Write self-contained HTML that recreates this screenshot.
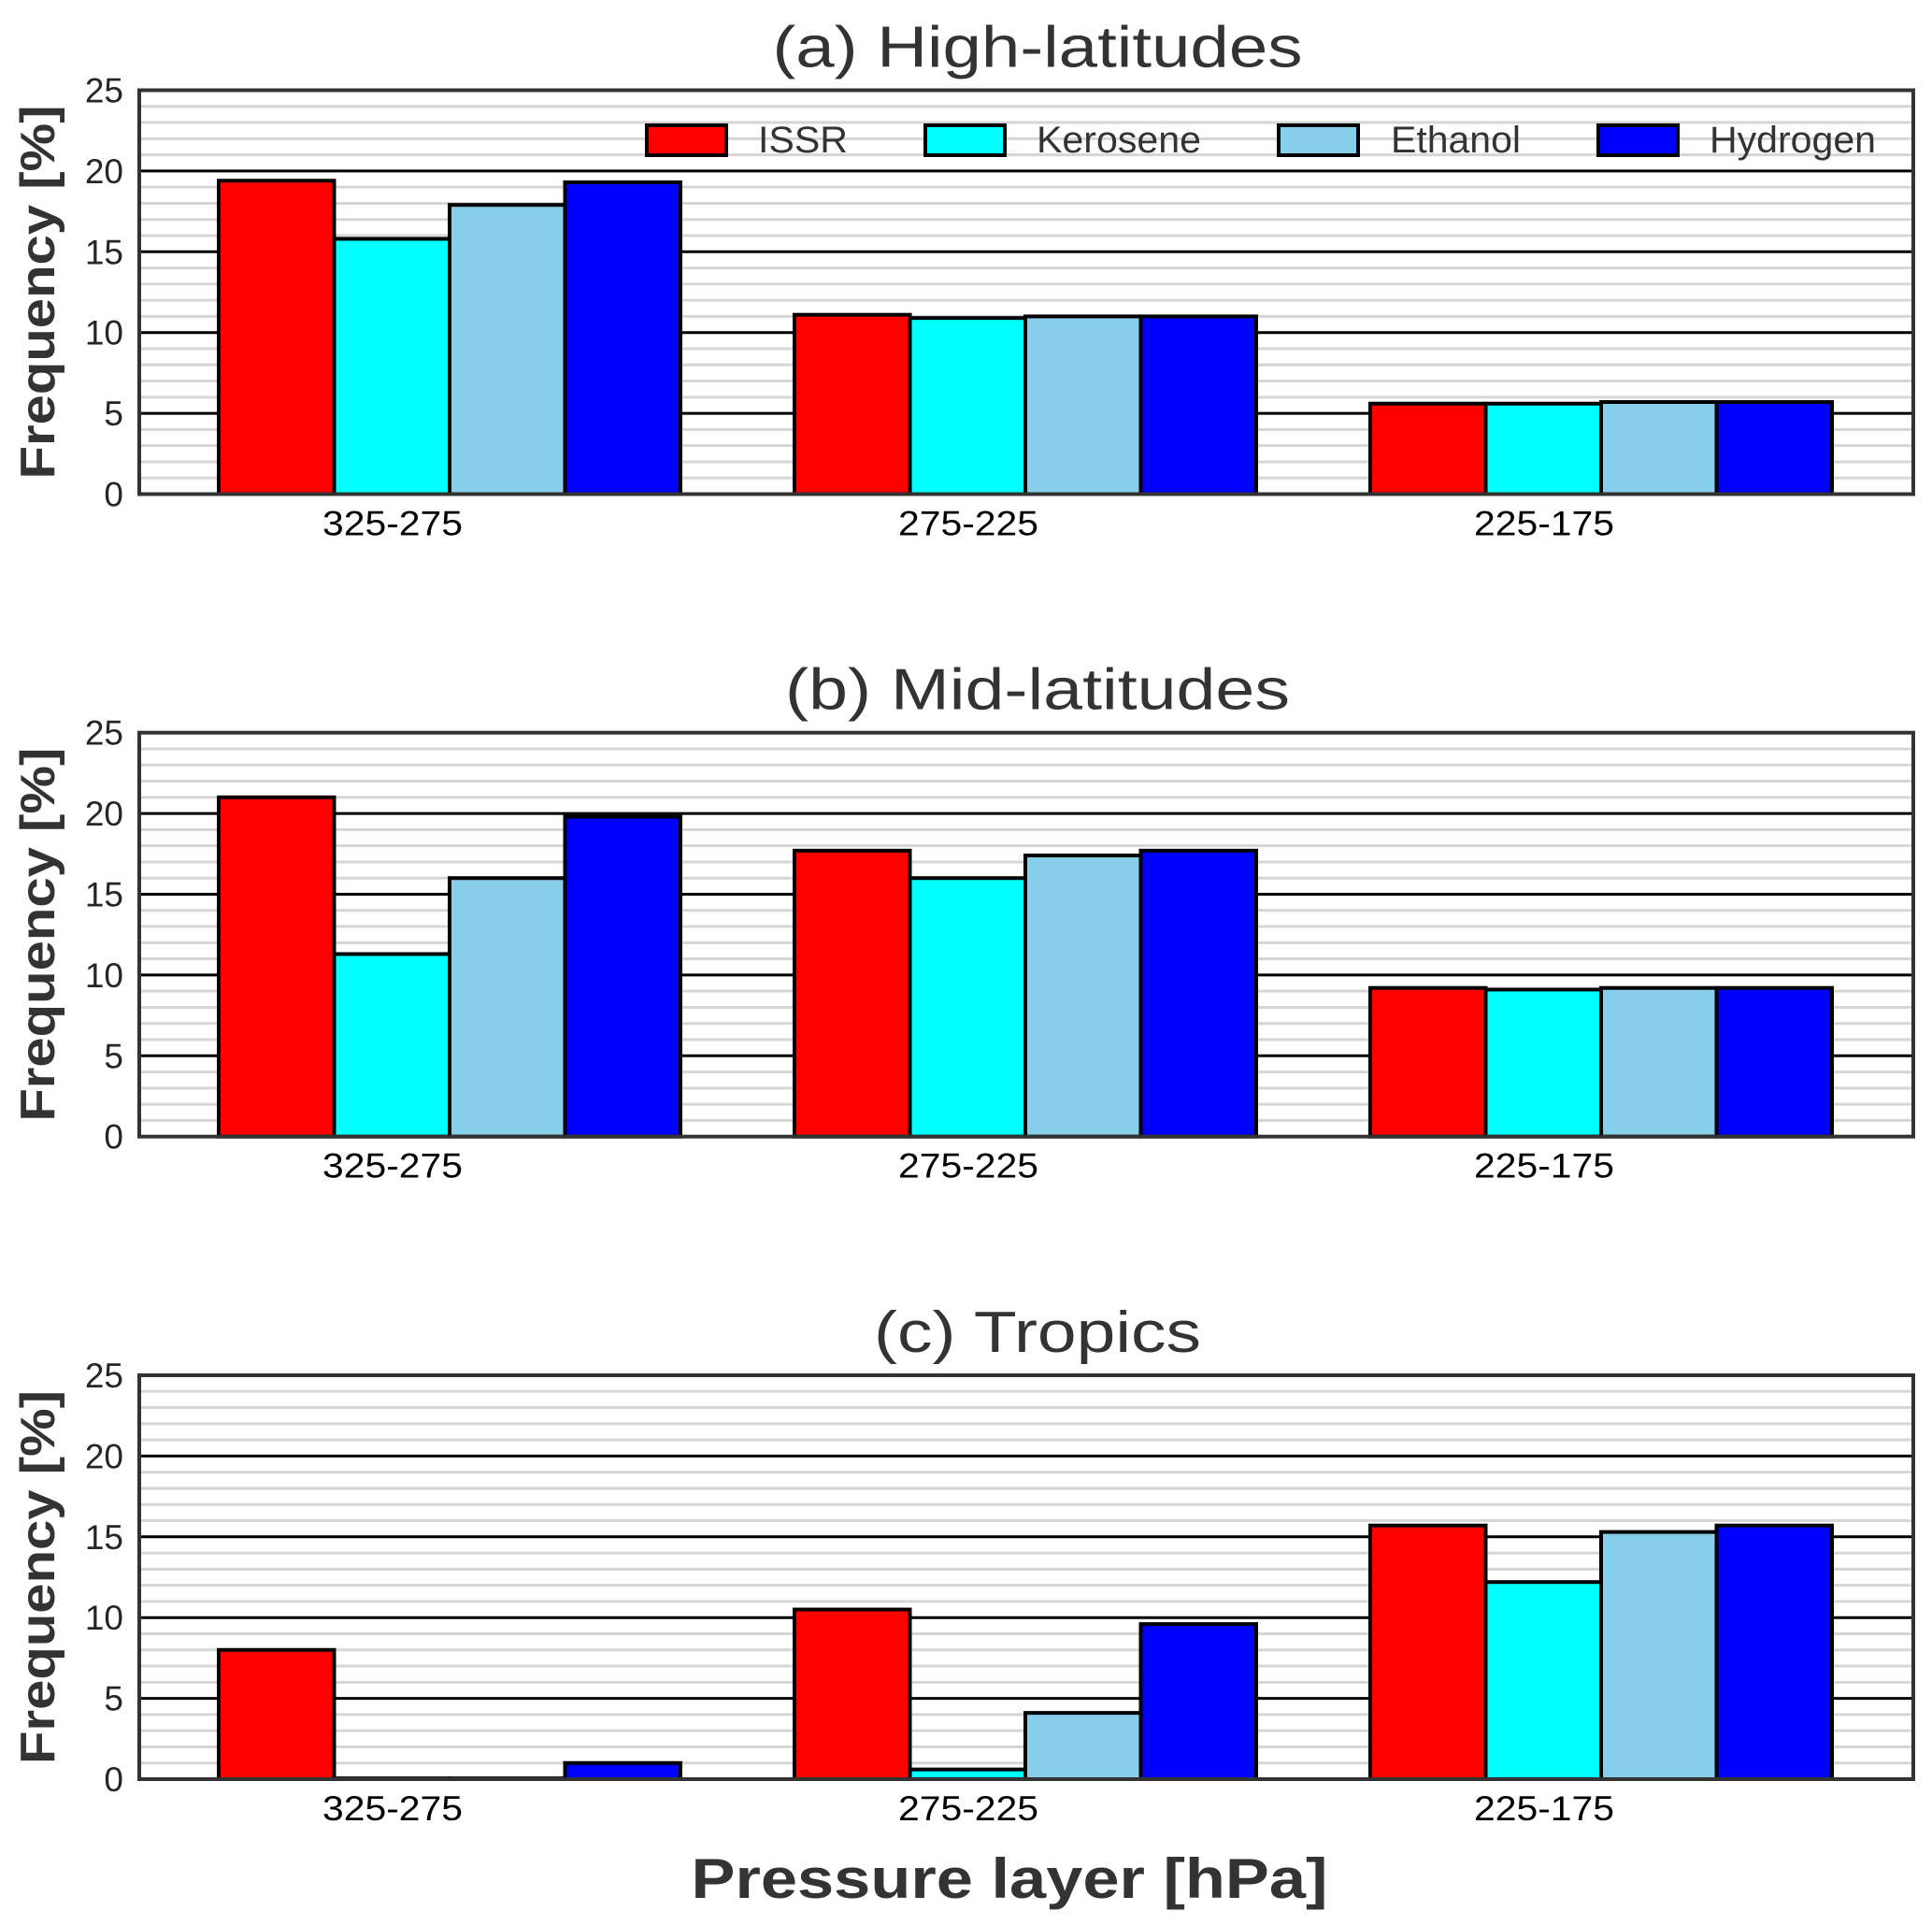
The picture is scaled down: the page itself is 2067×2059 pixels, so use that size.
<!DOCTYPE html>
<html><head><meta charset="utf-8"><style>
html,body{margin:0;padding:0;background:#fff}
svg text{font-family:"Liberation Sans",sans-serif}
</style></head><body>
<svg id="fig" width="2067" height="2054" viewBox="0 0 2067 2054" xmlns="http://www.w3.org/2000/svg">
<rect width="2067" height="2054" fill="#fff"/>
</svg>
<script>
const categories = ["325-275","275-225","225-175"];
const seriesNames = ["ISSR","Kerosene","Ethanol","Hydrogen"];
const seriesColors = ["#ff0000","#00ffff","#87ceeb","#0000ff"];
const panelTitles = ["(a) High-latitudes","(b) Mid-latitudes","(c) Tropics"];
const highLat = [[19.4,11.1,5.6],[15.8,10.9,5.6],[17.9,11.0,5.7],[19.3,11.0,5.7]];
const midLat  = [[21.0,17.7,9.2],[11.3,16.0,9.1],[16.0,17.4,9.2],[19.8,17.7,9.2]];
const tropics = [[8.0,10.5,15.7],[0.05,0.6,12.2],[0.05,4.1,15.3],[1.0,9.6,15.7]];
const yTicks = [0,5,10,15,20,25];
const panels = [highLat, midLat, tropics];

const NS = "http://www.w3.org/2000/svg";
const svg = document.getElementById('fig');
function mk(tag, attrs, parent){const e=document.createElementNS(NS,tag);for(const k in attrs)e.setAttribute(k,attrs[k]);(parent||svg).appendChild(e);return e;}

const L=149, R=2047, H=432, yMax=25;
const tops=[96.5,783.7,1471];
const catX0=481, catStep=616, barW=123.5;
const xCat = i => catX0 + catStep*i;

panels.forEach((data,p)=>{
  const top=tops[p], bot=top+H;
  const y = v => bot - v/yMax*H;
  const g = mk('g',{});
  
  
  for(let v=1; v<yMax; v++){
    if(v%5===0) continue;
    const ln=mk('line',{x1:L,x2:R,y1:y(v),y2:y(v),stroke:'#d6d6d6','stroke-width':3},g);
    
    
  }
  yTicks.forEach(v=>{
    if(v>0 && v<yMax){
      const ln=mk('line',{x1:L,x2:R,y1:y(v),y2:y(v),stroke:'#000','stroke-width':3},g);
      
      
    }
    const t=mk('text',{x:132,y:y(v)+13,'text-anchor':'end','font-size':37,fill:'#262626'},g);
    t.textContent=v;
    
    
  });
  data.forEach((vals,s)=>{
    vals.forEach((v,c)=>{
      const x = xCat(c) - 2*barW + s*barW;
      const r=mk('rect',{x:x,y:y(v),width:barW,height:bot-y(v),fill:seriesColors[s],stroke:'#000','stroke-width':4},g);
      
      
    });
  });
  const fr=mk('rect',{x:L,y:top,width:R-L,height:H,fill:'none',stroke:'#333','stroke-width':4},g);
  
  
  categories.forEach((c,i)=>{
    const t=mk('text',{x:xCat(i)-61,y:bot+44,'text-anchor':'middle','font-size':37,fill:'#000',textLength:150,lengthAdjust:'spacingAndGlyphs'},g);
    t.textContent=c;
    
    
  });
  const tt=mk('text',{x:1110,y:top-25,'text-anchor':'middle','font-size':62,fill:'#333',textLength:[567,540,350][p],lengthAdjust:'spacingAndGlyphs'},g);
  tt.textContent=panelTitles[p];
  
  
  const yl=mk('text',{x:0,y:0,'text-anchor':'middle','font-size':52,'font-weight':'bold',fill:'#333',textLength:400,lengthAdjust:'spacingAndGlyphs',transform:`translate(58,${top+H/2}) rotate(-90)`},g);
  yl.textContent='Frequency [%]';
  
  
});

const legBoxX=[692,990,1368,1710], legTextX=[811,1109,1488,1829], legTextW=[96,176,139,178];
seriesNames.forEach((n,i)=>{
  const g=mk('g',{});
  
  
  const b=mk('rect',{x:legBoxX[i],y:134,width:85,height:32,fill:seriesColors[i],stroke:'#000','stroke-width':4},g);
  
  
  const t=mk('text',{x:legTextX[i],y:163,'font-size':40,fill:'#333',textLength:legTextW[i],lengthAdjust:'spacingAndGlyphs'},g);
  t.textContent=n;
  
  
});

const xl=mk('text',{x:1080,y:2030,'text-anchor':'middle','font-size':60,'font-weight':'bold',fill:'#333',textLength:681,lengthAdjust:'spacingAndGlyphs'});
xl.textContent='Pressure layer [hPa]';


</script>
</body></html>
